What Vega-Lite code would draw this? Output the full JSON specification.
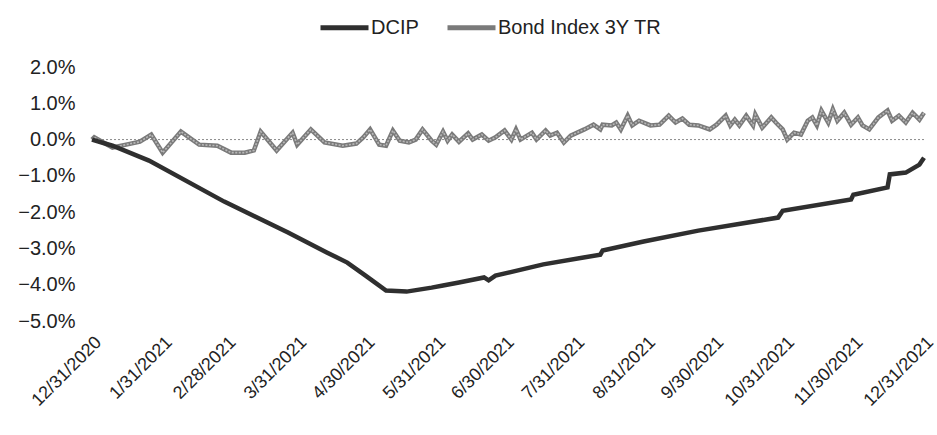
{
  "$schema": "https://vega.github.io/schema/vega-lite/v6.json",
  "width": 832,
  "height": 254,
  "autosize": "none",
  "padding": {"left": 92, "top": 67, "right": 13, "bottom": 114},
  "background": "white",
  "config": {
    "view": {"stroke": null},
    "font": "Liberation Sans, Arial, sans-serif"
  },
  "datasets": {
    "dcip": [
      {"date": "2020-12-31", "series": "DCIP", "value": 0.0},
      {"date": "2021-01-09", "series": "DCIP", "value": -0.17},
      {"date": "2021-01-25", "series": "DCIP", "value": -0.58},
      {"date": "2021-02-27", "series": "DCIP", "value": -1.71},
      {"date": "2021-03-27", "series": "DCIP", "value": -2.56},
      {"date": "2021-04-13", "series": "DCIP", "value": -3.11},
      {"date": "2021-04-22", "series": "DCIP", "value": -3.39},
      {"date": "2021-04-30", "series": "DCIP", "value": -3.75},
      {"date": "2021-05-09", "series": "DCIP", "value": -4.16},
      {"date": "2021-05-18", "series": "DCIP", "value": -4.19},
      {"date": "2021-05-29", "series": "DCIP", "value": -4.08},
      {"date": "2021-06-03", "series": "DCIP", "value": -4.02},
      {"date": "2021-06-10", "series": "DCIP", "value": -3.94},
      {"date": "2021-06-21", "series": "DCIP", "value": -3.80},
      {"date": "2021-06-23", "series": "DCIP", "value": -3.88},
      {"date": "2021-06-26", "series": "DCIP", "value": -3.75},
      {"date": "2021-07-17", "series": "DCIP", "value": -3.44},
      {"date": "2021-08-11", "series": "DCIP", "value": -3.17},
      {"date": "2021-08-12", "series": "DCIP", "value": -3.06},
      {"date": "2021-08-30", "series": "DCIP", "value": -2.81},
      {"date": "2021-09-23", "series": "DCIP", "value": -2.51},
      {"date": "2021-10-28", "series": "DCIP", "value": -2.15},
      {"date": "2021-10-30", "series": "DCIP", "value": -1.96},
      {"date": "2021-11-29", "series": "DCIP", "value": -1.65},
      {"date": "2021-11-30", "series": "DCIP", "value": -1.52},
      {"date": "2021-12-15", "series": "DCIP", "value": -1.32},
      {"date": "2021-12-16", "series": "DCIP", "value": -0.96},
      {"date": "2021-12-23", "series": "DCIP", "value": -0.91},
      {"date": "2021-12-29", "series": "DCIP", "value": -0.69},
      {"date": "2021-12-31", "series": "DCIP", "value": -0.50}
    ],
    "bond": [
      {"date": "2020-12-31", "series": "Bond Index 3Y TR", "value": 0.0},
      {"date": "2021-01-01", "series": "Bond Index 3Y TR", "value": 0.06},
      {"date": "2021-01-05", "series": "Bond Index 3Y TR", "value": -0.08},
      {"date": "2021-01-09", "series": "Bond Index 3Y TR", "value": -0.22},
      {"date": "2021-01-15", "series": "Bond Index 3Y TR", "value": -0.14},
      {"date": "2021-01-21", "series": "Bond Index 3Y TR", "value": -0.06},
      {"date": "2021-01-26", "series": "Bond Index 3Y TR", "value": 0.14},
      {"date": "2021-01-31", "series": "Bond Index 3Y TR", "value": -0.36},
      {"date": "2021-02-08", "series": "Bond Index 3Y TR", "value": 0.22},
      {"date": "2021-02-16", "series": "Bond Index 3Y TR", "value": -0.14},
      {"date": "2021-02-24", "series": "Bond Index 3Y TR", "value": -0.17},
      {"date": "2021-03-02", "series": "Bond Index 3Y TR", "value": -0.36},
      {"date": "2021-03-08", "series": "Bond Index 3Y TR", "value": -0.36},
      {"date": "2021-03-12", "series": "Bond Index 3Y TR", "value": -0.30},
      {"date": "2021-03-15", "series": "Bond Index 3Y TR", "value": 0.22},
      {"date": "2021-03-22", "series": "Bond Index 3Y TR", "value": -0.30},
      {"date": "2021-03-29", "series": "Bond Index 3Y TR", "value": 0.19},
      {"date": "2021-03-31", "series": "Bond Index 3Y TR", "value": -0.14},
      {"date": "2021-04-06", "series": "Bond Index 3Y TR", "value": 0.28},
      {"date": "2021-04-12", "series": "Bond Index 3Y TR", "value": -0.08},
      {"date": "2021-04-20", "series": "Bond Index 3Y TR", "value": -0.17},
      {"date": "2021-04-26", "series": "Bond Index 3Y TR", "value": -0.11},
      {"date": "2021-04-29", "series": "Bond Index 3Y TR", "value": 0.06},
      {"date": "2021-05-02", "series": "Bond Index 3Y TR", "value": 0.28},
      {"date": "2021-05-06", "series": "Bond Index 3Y TR", "value": -0.14},
      {"date": "2021-05-09", "series": "Bond Index 3Y TR", "value": -0.17},
      {"date": "2021-05-12", "series": "Bond Index 3Y TR", "value": 0.25},
      {"date": "2021-05-15", "series": "Bond Index 3Y TR", "value": -0.03},
      {"date": "2021-05-19", "series": "Bond Index 3Y TR", "value": -0.08},
      {"date": "2021-05-22", "series": "Bond Index 3Y TR", "value": 0.0},
      {"date": "2021-05-25", "series": "Bond Index 3Y TR", "value": 0.28},
      {"date": "2021-05-29", "series": "Bond Index 3Y TR", "value": -0.03},
      {"date": "2021-05-31", "series": "Bond Index 3Y TR", "value": -0.14},
      {"date": "2021-06-03", "series": "Bond Index 3Y TR", "value": 0.22},
      {"date": "2021-06-05", "series": "Bond Index 3Y TR", "value": -0.03},
      {"date": "2021-06-07", "series": "Bond Index 3Y TR", "value": 0.14},
      {"date": "2021-06-10", "series": "Bond Index 3Y TR", "value": -0.06},
      {"date": "2021-06-14", "series": "Bond Index 3Y TR", "value": 0.17},
      {"date": "2021-06-16", "series": "Bond Index 3Y TR", "value": 0.0},
      {"date": "2021-06-20", "series": "Bond Index 3Y TR", "value": 0.14},
      {"date": "2021-06-23", "series": "Bond Index 3Y TR", "value": -0.03},
      {"date": "2021-06-26", "series": "Bond Index 3Y TR", "value": 0.06},
      {"date": "2021-06-30", "series": "Bond Index 3Y TR", "value": 0.25},
      {"date": "2021-07-03", "series": "Bond Index 3Y TR", "value": 0.0},
      {"date": "2021-07-05", "series": "Bond Index 3Y TR", "value": 0.28},
      {"date": "2021-07-07", "series": "Bond Index 3Y TR", "value": 0.0},
      {"date": "2021-07-12", "series": "Bond Index 3Y TR", "value": 0.19},
      {"date": "2021-07-14", "series": "Bond Index 3Y TR", "value": 0.0},
      {"date": "2021-07-18", "series": "Bond Index 3Y TR", "value": 0.25},
      {"date": "2021-07-20", "series": "Bond Index 3Y TR", "value": 0.11},
      {"date": "2021-07-23", "series": "Bond Index 3Y TR", "value": 0.19},
      {"date": "2021-07-26", "series": "Bond Index 3Y TR", "value": -0.08},
      {"date": "2021-07-29", "series": "Bond Index 3Y TR", "value": 0.11},
      {"date": "2021-08-04", "series": "Bond Index 3Y TR", "value": 0.28},
      {"date": "2021-08-08", "series": "Bond Index 3Y TR", "value": 0.41},
      {"date": "2021-08-11", "series": "Bond Index 3Y TR", "value": 0.28},
      {"date": "2021-08-12", "series": "Bond Index 3Y TR", "value": 0.41},
      {"date": "2021-08-16", "series": "Bond Index 3Y TR", "value": 0.39},
      {"date": "2021-08-18", "series": "Bond Index 3Y TR", "value": 0.47},
      {"date": "2021-08-20", "series": "Bond Index 3Y TR", "value": 0.28},
      {"date": "2021-08-23", "series": "Bond Index 3Y TR", "value": 0.66},
      {"date": "2021-08-25", "series": "Bond Index 3Y TR", "value": 0.39},
      {"date": "2021-08-28", "series": "Bond Index 3Y TR", "value": 0.52},
      {"date": "2021-09-02", "series": "Bond Index 3Y TR", "value": 0.39},
      {"date": "2021-09-06", "series": "Bond Index 3Y TR", "value": 0.41},
      {"date": "2021-09-10", "series": "Bond Index 3Y TR", "value": 0.66},
      {"date": "2021-09-13", "series": "Bond Index 3Y TR", "value": 0.47},
      {"date": "2021-09-16", "series": "Bond Index 3Y TR", "value": 0.58},
      {"date": "2021-09-19", "series": "Bond Index 3Y TR", "value": 0.41},
      {"date": "2021-09-23", "series": "Bond Index 3Y TR", "value": 0.39},
      {"date": "2021-09-28", "series": "Bond Index 3Y TR", "value": 0.28},
      {"date": "2021-10-01", "series": "Bond Index 3Y TR", "value": 0.41},
      {"date": "2021-10-05", "series": "Bond Index 3Y TR", "value": 0.66},
      {"date": "2021-10-07", "series": "Bond Index 3Y TR", "value": 0.39},
      {"date": "2021-10-09", "series": "Bond Index 3Y TR", "value": 0.55},
      {"date": "2021-10-11", "series": "Bond Index 3Y TR", "value": 0.39},
      {"date": "2021-10-14", "series": "Bond Index 3Y TR", "value": 0.66},
      {"date": "2021-10-17", "series": "Bond Index 3Y TR", "value": 0.39},
      {"date": "2021-10-18", "series": "Bond Index 3Y TR", "value": 0.69},
      {"date": "2021-10-21", "series": "Bond Index 3Y TR", "value": 0.33},
      {"date": "2021-10-25", "series": "Bond Index 3Y TR", "value": 0.61},
      {"date": "2021-10-27", "series": "Bond Index 3Y TR", "value": 0.47},
      {"date": "2021-10-30", "series": "Bond Index 3Y TR", "value": 0.28},
      {"date": "2021-11-01", "series": "Bond Index 3Y TR", "value": 0.0},
      {"date": "2021-11-04", "series": "Bond Index 3Y TR", "value": 0.19},
      {"date": "2021-11-07", "series": "Bond Index 3Y TR", "value": 0.14},
      {"date": "2021-11-10", "series": "Bond Index 3Y TR", "value": 0.52},
      {"date": "2021-11-12", "series": "Bond Index 3Y TR", "value": 0.61},
      {"date": "2021-11-14", "series": "Bond Index 3Y TR", "value": 0.39},
      {"date": "2021-11-16", "series": "Bond Index 3Y TR", "value": 0.80},
      {"date": "2021-11-19", "series": "Bond Index 3Y TR", "value": 0.47},
      {"date": "2021-11-21", "series": "Bond Index 3Y TR", "value": 0.83},
      {"date": "2021-11-23", "series": "Bond Index 3Y TR", "value": 0.52},
      {"date": "2021-11-26", "series": "Bond Index 3Y TR", "value": 0.74},
      {"date": "2021-11-29", "series": "Bond Index 3Y TR", "value": 0.41},
      {"date": "2021-12-02", "series": "Bond Index 3Y TR", "value": 0.61},
      {"date": "2021-12-04", "series": "Bond Index 3Y TR", "value": 0.39},
      {"date": "2021-12-07", "series": "Bond Index 3Y TR", "value": 0.28},
      {"date": "2021-12-11", "series": "Bond Index 3Y TR", "value": 0.61},
      {"date": "2021-12-15", "series": "Bond Index 3Y TR", "value": 0.80},
      {"date": "2021-12-17", "series": "Bond Index 3Y TR", "value": 0.52},
      {"date": "2021-12-20", "series": "Bond Index 3Y TR", "value": 0.66},
      {"date": "2021-12-23", "series": "Bond Index 3Y TR", "value": 0.47},
      {"date": "2021-12-26", "series": "Bond Index 3Y TR", "value": 0.74},
      {"date": "2021-12-29", "series": "Bond Index 3Y TR", "value": 0.55},
      {"date": "2021-12-31", "series": "Bond Index 3Y TR", "value": 0.74}
    ]
  },
  "encoding": {
    "x": {
      "field": "date",
      "type": "temporal",
      "scale": {
        "type": "utc",
        "domain": [{"year": 2020, "month": 12, "date": 31, "utc": true}, {"year": 2021, "month": 12, "date": 31, "utc": true}],
        "nice": false
      },
      "axis": {
        "title": null,
        "domain": false,
        "ticks": false,
        "grid": false,
        "labelExpr": "utcFormat(datum.value, '%-m/%-d/%Y')",
        "labelAngle": -45,
        "labelFontSize": 18,
        "labelColor": "#222222",
        "labelPadding": 12,
        "labelOverlap": false,
        "labelFlush": false,
        "labelBound": false,
        "values": [
          {"year": 2020, "month": 12, "date": 31, "utc": true},
          {"year": 2021, "month": 1, "date": 31, "utc": true},
          {"year": 2021, "month": 2, "date": 28, "utc": true},
          {"year": 2021, "month": 3, "date": 31, "utc": true},
          {"year": 2021, "month": 4, "date": 30, "utc": true},
          {"year": 2021, "month": 5, "date": 31, "utc": true},
          {"year": 2021, "month": 6, "date": 30, "utc": true},
          {"year": 2021, "month": 7, "date": 31, "utc": true},
          {"year": 2021, "month": 8, "date": 31, "utc": true},
          {"year": 2021, "month": 9, "date": 30, "utc": true},
          {"year": 2021, "month": 10, "date": 31, "utc": true},
          {"year": 2021, "month": 11, "date": 30, "utc": true},
          {"year": 2021, "month": 12, "date": 31, "utc": true}
        ]
      }
    },
    "y": {
      "field": "value",
      "type": "quantitative",
      "scale": {"domain": [-5, 2], "nice": false, "zero": false},
      "axis": {
        "title": null,
        "domain": false,
        "ticks": false,
        "grid": false,
        "values": [-5, -4, -3, -2, -1, 0, 1, 2],
        "labelExpr": "format(datum.value, '.1f') + '%'",
        "labelFontSize": 20,
        "labelColor": "#222222",
        "labelPadding": 17
      }
    }
  },
  "layer": [
    {
      "data": {"values": [{"z": 0}]},
      "mark": {"type": "rule", "color": "#8a8a8a", "strokeWidth": 1, "strokeDash": [2, 2]},
      "encoding": {"y": {"field": "z", "type": "quantitative"}, "x": null}
    },
    {
      "data": {"name": "bond"},
      "mark": {"type": "line", "strokeWidth": 4.5},
      "encoding": {
        "color": {
          "field": "series",
          "type": "nominal",
          "scale": {"domain": ["DCIP", "Bond Index 3Y TR"], "range": ["#2f2f2f", "#7a7a7a"]},
          "legend": {
            "title": null,
            "orient": "none",
            "legendX": 226,
            "legendY": -66,
            "direction": "horizontal",
            "symbolType": "stroke",
            "symbolSize": 2304,
            "symbolStrokeWidth": 5,
            "labelFontSize": 20,
            "labelColor": "#222222",
            "labelOffset": 0,
            "labelLimit": 400,
            "columnPadding": 18
          }
        }
      }
    },
    {
      "data": {"name": "bond"},
      "mark": {"type": "line", "strokeWidth": 1.6, "color": "#b8b8b8", "strokeDash": [2, 1.5]},
      "encoding": {}
    },
    {
      "data": {"name": "dcip"},
      "mark": {"type": "line", "strokeWidth": 4.5},
      "encoding": {
        "color": {"field": "series", "type": "nominal"}
      }
    }
  ]
}
